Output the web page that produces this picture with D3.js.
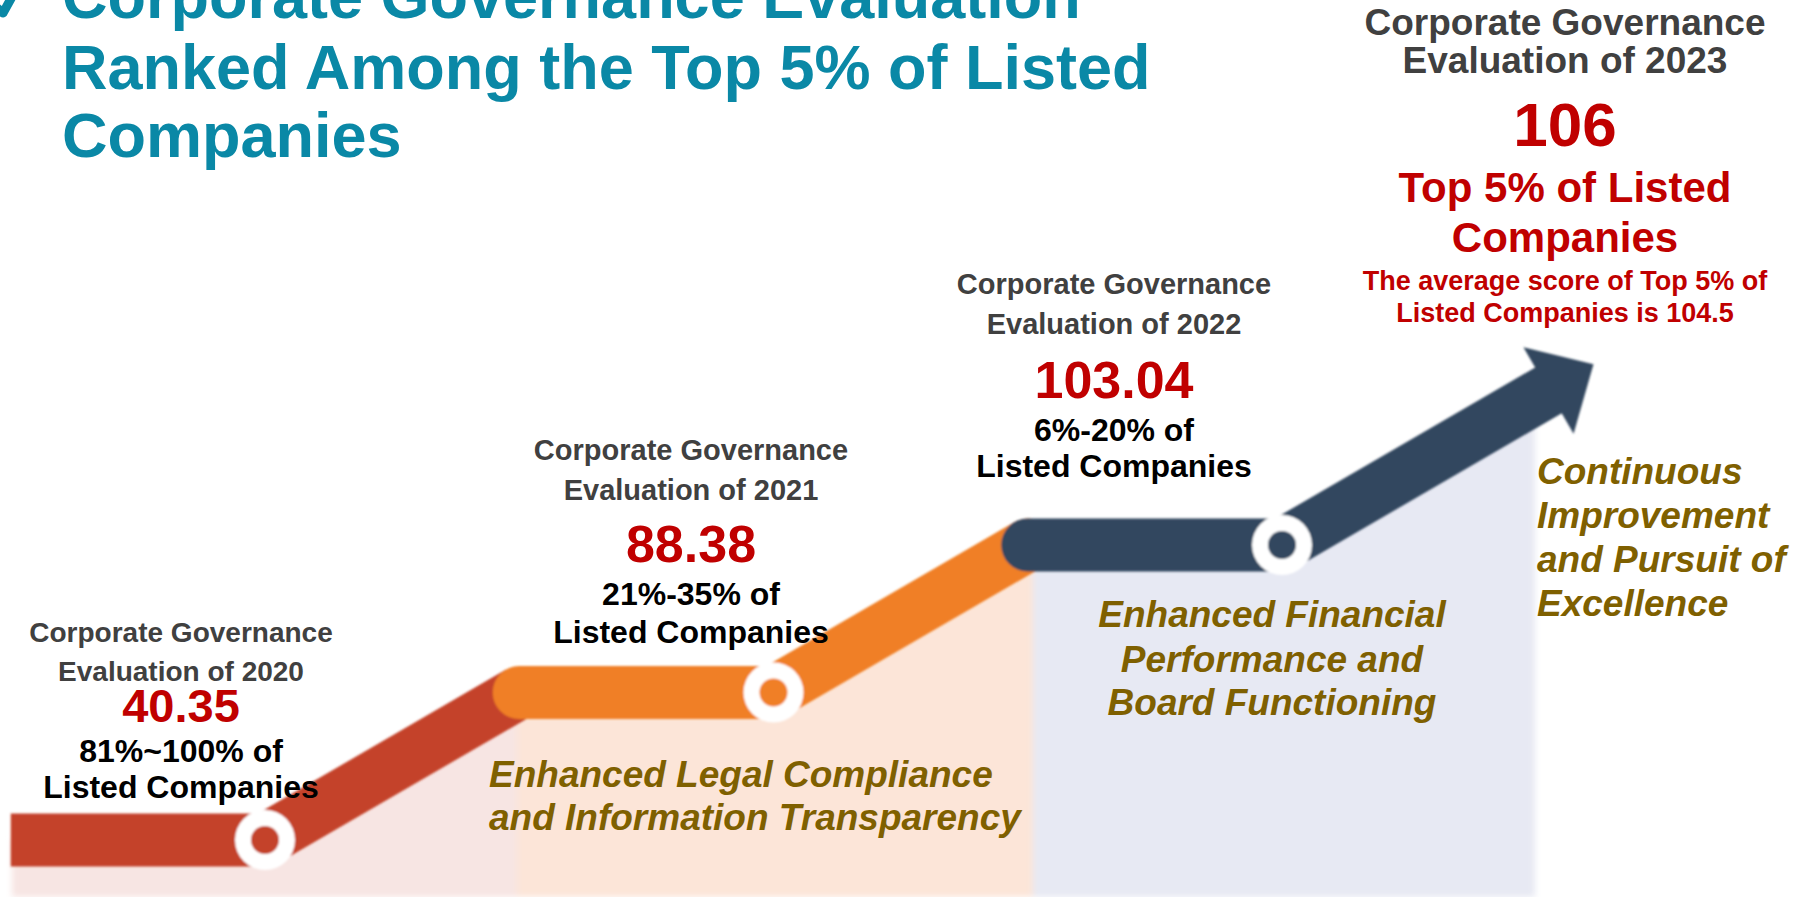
<!DOCTYPE html>
<html><head><meta charset="utf-8">
<script src="https://cdn.jsdelivr.net/npm/d3@7"></script>
<style>html,body{margin:0;padding:0;background:#fff;overflow:hidden}
text{font-family:"Liberation Sans",Arial,Helvetica,sans-serif;font-weight:bold}</style>
</head><body><svg id="c" width="1796" height="897"></svg>
<script>
// ---------- data ----------
const titleLines = ["Corporate Governance Evaluation", "Ranked Among the Top 5% of Listed", "Companies"];
const years = [2020, 2021, 2022, 2023];
const scores = ["40.35", "88.38", "103.04", "106"];
const rankLines = [
  ["81%~100% of", "Listed Companies"],
  ["21%-35% of", "Listed Companies"],
  ["6%-20% of", "Listed Companies"],
  ["Top 5% of Listed", "Companies"]
];
const top5Note = ["The average score of Top 5% of", "Listed Companies is 104.5"];
const themes = [
  ["Enhanced Legal Compliance", "and Information Transparency"],
  ["Enhanced Financial", "Performance and", "Board Functioning"],
  ["Continuous", "Improvement", "and Pursuit of", "Excellence"]
];
const steps = [0, 1, 2];

// ---------- style / layout ----------
const segColors = ["#C4422A", "#F07F25", "#33475F"];
const panelColors = ["#F7E5E3", "#FCE5D8", "#E7E9F3"];
const teal = "#0A88A6", gray = "#404040", red = "#C00000", olive = "#7F6000";

const svg = d3.select("#c");
const x = d3.scaleLinear().domain([0, 2]).range([265, 1282]);
const y = d3.scaleLinear().domain([0, 3]).range([840, 397.5]);
const half = (x(1) - x(0)) / 2;
const BAR = 53;

// arrow geometry
const dx = half, dy = y(3) - y(2);
const len = Math.hypot(dx, dy);
const u = [dx / len, dy / len], nrm = [-u[1], u[0]];
const base = [x(2) + dx * 1.055, y(2) + dy * 1.055];
const tip = [base[0] + 50 * u[0], base[1] + 50 * u[1]];

function segPoints(i) {
  const pts = [[x(i) - half, y(i)], [x(i), y(i)]];
  if (i < 2) pts.push([x(i) + half, y(i + 1)]);
  else pts.push(base);
  return pts;
}

// ---------- panels ----------
const defs = svg.append("defs");
defs.append("filter").attr("id", "soft").attr("x", "-10%").attr("y", "-10%").attr("width", "120%").attr("height", "120%")
  .append("feGaussianBlur").attr("stdDeviation", 3);
defs.append("filter").attr("id", "soft1")
  .append("feGaussianBlur").attr("stdDeviation", 1);

const bounds = [12, 517, 1033, 1535];
const linePts = [];
steps.forEach(i => segPoints(i).forEach((p, k) => { if (!(i > 0 && k === 0)) linePts.push(p); }));
linePts.push([base[0] + 40, base[1]]);
const area = d3.area().x(d => d[0]).y0(897).y1(d => d[1]).curve(d3.curveLinear);

steps.forEach(i => {
  defs.append("clipPath").attr("id", "cp" + i)
    .append("rect").attr("x", bounds[i]).attr("y", 0).attr("width", bounds[i + 1] - bounds[i]).attr("height", 897);
});
const pg = svg.append("g").attr("filter", "url(#soft)");
steps.forEach(i => {
  pg.append("path").attr("d", area(linePts)).attr("fill", panelColors[i]).attr("clip-path", `url(#cp${i})`);
});

// ---------- ribbon ----------
const line = d3.line();
const rg = svg.append("g").attr("filter", "url(#soft1)");
steps.forEach(i => {
  rg.append("path").attr("d", line(segPoints(i)))
    .attr("fill", "none").attr("stroke", segColors[i]).attr("stroke-width", BAR)
    .attr("stroke-linejoin", "round").attr("stroke-linecap", i === 0 ? "butt" : "round");
});
// arrow head
rg.append("path")
  .attr("d", line([[base[0] + 50 * nrm[0] - 2 * u[0], base[1] + 50 * nrm[1] - 2 * u[1]], tip,
                   [base[0] - 50 * nrm[0] - 2 * u[0], base[1] - 50 * nrm[1] - 2 * u[1]]]) + "Z")
  .attr("fill", segColors[2]);
// rings
steps.forEach(i => {
  rg.append("circle").attr("cx", x(i)).attr("cy", y(i)).attr("r", 30).attr("fill", "#fff");
  rg.append("circle").attr("cx", x(i)).attr("cy", y(i)).attr("r", 14).attr("fill", segColors[i]);
});

// ---------- text helpers ----------
function lines(arr, xPos, ys, size, color, anchor, italic) {
  arr.forEach((t, k) => {
    svg.append("text").attr("x", xPos).attr("y", ys[k]).attr("font-size", size)
      .attr("fill", color).attr("text-anchor", anchor || "middle")
      .attr("font-style", italic ? "italic" : "normal").text(t);
  });
}

// title
svg.append("path").attr("d", "M-12,0 L3,13 L18,-14").attr("fill", "none")
  .attr("stroke", teal).attr("stroke-width", 9).attr("stroke-linejoin", "round").attr("stroke-linecap", "round");
lines(titleLines, 62, [18, 89, 157], 63, teal, "start");

// year blocks
const blocks = [
  { cx: 181, hs: 28, hy: [642, 681], ns: 47, ny: 722, rs: 32, ry: [762, 798], rc: "#000" },
  { cx: 691, hs: 29, hy: [460, 500], ns: 52, ny: 562, rs: 32, ry: [605, 643], rc: "#000" },
  { cx: 1114, hs: 29, hy: [294, 334], ns: 52, ny: 398, rs: 32, ry: [441, 477], rc: "#000" },
  { cx: 1565, hs: 37, hy: [35, 73], ns: 62, ny: 146, rs: 42, ry: [202, 252], rc: red }
];
years.forEach((yr, i) => {
  const b = blocks[i];
  lines(["Corporate Governance", "Evaluation of " + yr], b.cx, b.hy, b.hs, gray);
  lines([scores[i]], b.cx, [b.ny], b.ns, red);
  lines(rankLines[i], b.cx, b.ry, b.rs, b.rc);
});
lines(top5Note, 1565, [290, 322], 27, red);

// themes
lines(themes[0], 489, [787, 830], 37, olive, "start", true);
lines(themes[1], 1272, [627, 672, 715], 37, olive, "middle", true);
lines(themes[2], 1537, [484, 528, 572, 616], 37, olive, "start", true);
</script></body></html>
